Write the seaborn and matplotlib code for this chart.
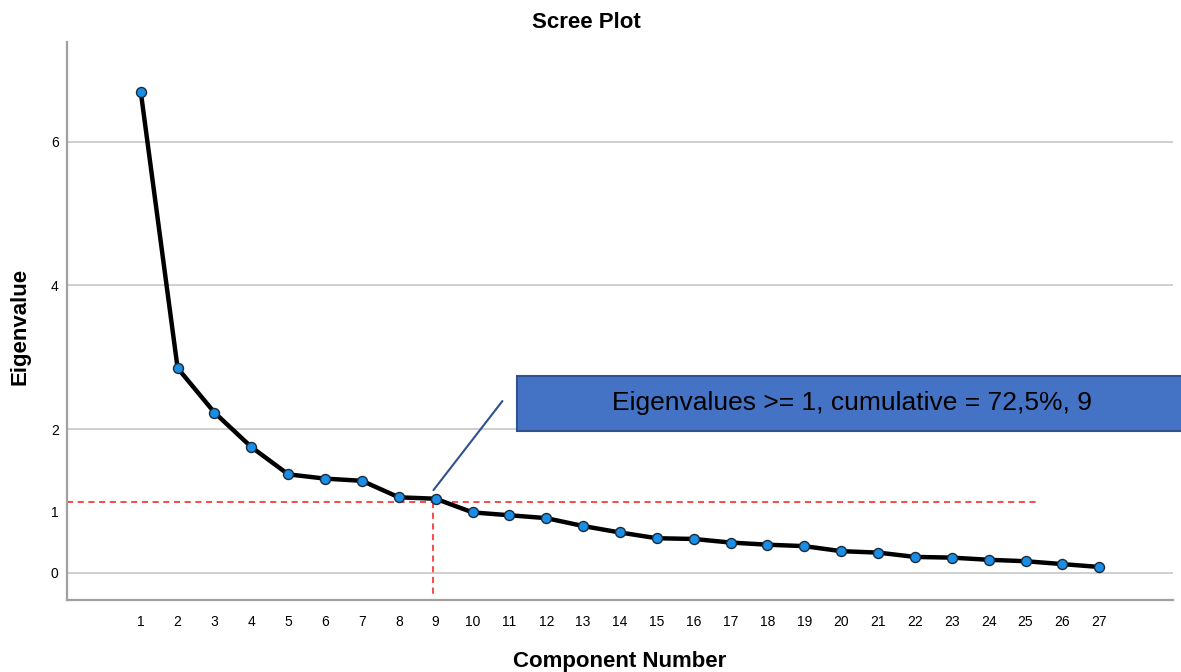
import matplotlib
matplotlib.use("Agg")
import matplotlib.pyplot as plt
import matplotlib.transforms as mtransforms
from matplotlib.patches import Rectangle
import seaborn as sns
import pandas as pd

# ---- data ----
components = list(range(1, 28))
eigenvalues = [6.70, 2.85, 2.23, 1.75, 1.37, 1.31, 1.28, 1.05, 1.03,
               0.84, 0.80, 0.76, 0.65, 0.56, 0.48, 0.47, 0.42, 0.39,
               0.37, 0.30, 0.28, 0.22, 0.21, 0.18, 0.16, 0.12, 0.08]
y_ticks = [0, 2, 4, 6]
kaiser_level = 0.98
cut_component = 8.92
annotation_text = "Eigenvalues >= 1, cumulative = 72,5%, 9"

df = pd.DataFrame({"Component Number": components, "Eigenvalue": eigenvalues})

sns.set_theme(style="white")
plt.rcParams["font.family"] = ["Liberation Sans", "DejaVu Sans"]
plt.rcParams["text.color"] = "black"
plt.rcParams["axes.labelcolor"] = "black"
plt.rcParams["xtick.color"] = "black"
plt.rcParams["ytick.color"] = "black"

fig = plt.figure(figsize=(11.81, 6.72), dpi=100)
ax = fig.add_axes([67 / 1181, 1 - 600 / 672, (1173 - 67) / 1181, (600 - 42) / 672])

# gridlines
for yv in y_ticks:
    ax.axhline(yv, color="#CCCCCC", lw=1.3, zorder=0)

sns.lineplot(data=df, x="Component Number", y="Eigenvalue", ax=ax,
             color="black", lw=3.2, marker="o", markersize=7.2,
             markerfacecolor="#1A8DE4", markeredgecolor="#1B2A3A",
             markeredgewidth=1.0, zorder=3)

ax.set_xlim(-1, 29)
ax.set_ylim(-0.38, 7.39)
ax.set_xticks(components)
ax.set_xticklabels([str(c) for c in components], fontsize=10)
ax.set_yticks(y_ticks)
ax.set_yticklabels([str(v) for v in y_ticks], fontsize=10)
ax.tick_params(axis="x", length=0, pad=11)
ax.tick_params(axis="y", length=0, pad=6)

for s in ["top", "right"]:
    ax.spines[s].set_visible(False)
for s in ["left", "bottom"]:
    ax.spines[s].set_color("#A0A0A0")
    ax.spines[s].set_linewidth(1.6)

# manual "1" label
trans = mtransforms.blended_transform_factory(ax.transAxes, ax.transData)
ax.text(-8 / 1106, 0.836, "1", transform=trans, ha="right", va="center", fontsize=10)

# red dashed reference lines
ax.plot([-1, 25.40], [kaiser_level, kaiser_level], color="#F51A1A", lw=1.1,
        ls=(0, (4, 3)), zorder=2)
ax.plot([cut_component, cut_component], [kaiser_level, -0.34], color="#F51A1A",
        lw=1.1, ls=(0, (4, 3)), zorder=2)

# annotation box + connector
ax.add_patch(Rectangle((11.20, 1.978), 29.38 - 11.20, 2.744 - 1.978,
                       facecolor="#4472C4", edgecolor="#2F528F", lw=1.5,
                       clip_on=False, zorder=4))
ax.text(20.29, 2.36, annotation_text, ha="center", va="center", fontsize=19,
        color="black", zorder=5, clip_on=False)
ax.plot([8.94, 10.81], [1.15, 2.39], color="#2F528F", lw=1.5, zorder=4)

ax.set_xlabel("Component Number", fontsize=16, fontweight="bold", va="center")
ax.xaxis.set_label_coords(0.5, (600 - 662) / 558)
ax.set_ylabel("Eigenvalue", fontsize=16, fontweight="bold", va="center", ha="center")
ax.yaxis.set_label_coords((20 - 67) / 1106, (600 - 326) / 558)

fig.text(586 / 1181, 1 - 22 / 672, "Scree Plot", ha="center", va="center",
         fontsize=16, fontweight="bold")

fig.savefig("out.png", dpi=100)
